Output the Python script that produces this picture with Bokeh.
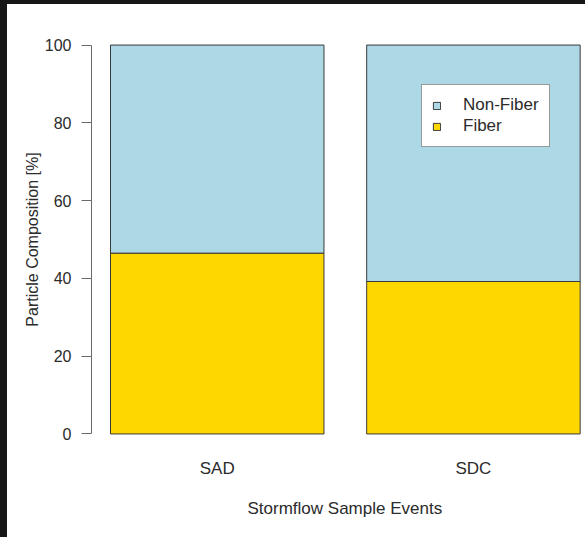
import numpy as np
from bokeh.plotting import figure
from bokeh.models import ColumnDataSource, Range1d, FixedTicker, Legend, LegendItem, Title
from bokeh.layouts import column
from bokeh.embed import file_html
from bokeh.resources import INLINE

# ---- data ----
events = ["SAD", "SDC"]
fiber = [46.5, 39.2]
non_fiber = [round(100 - f, 1) for f in fiber]
y_ticks = [0, 20, 40, 60, 80, 100]
series_labels = ["Fiber", "Non-Fiber"]
series_colors = ["#FFD700", "#ADD8E6"]
x_title = "Stormflow Sample Events"
y_title = "Particle Composition [%]"

bar_width = 1.0
bar_space = 0.2
x_pos = [bar_space + i * (bar_width + bar_space) + bar_width / 2 for i in range(len(events))]

src = ColumnDataSource(dict(x=x_pos, fiber=fiber, non_fiber=non_fiber, event=events))

FONT = "Liberation Sans"
TXT = "#2b2b2b"
AX = "#6a6a6a"

p = figure(width=578, height=533,
           x_range=Range1d(0.111, 2.425), y_range=Range1d(-4, 104),
           output_backend="svg", toolbar_location=None,
           min_border_left=84, min_border_right=0,
           min_border_top=25, min_border_bottom=88)
p.outline_line_color = None
p.xgrid.visible = False
p.ygrid.visible = False
p.background_fill_color = "white"
p.border_fill_color = "white"

rs = p.vbar_stack(["fiber", "non_fiber"], x="x", width=bar_width, source=src,
                  fill_color=series_colors, line_color="#3a3a3a", line_width=1)

# x axis
xa = p.xaxis[0]
xa.ticker = FixedTicker(ticks=x_pos)
xa.major_label_overrides = {x: e for x, e in zip(x_pos, events)}
xa.axis_line_color = None
xa.major_tick_line_color = None
xa.minor_tick_line_color = None
xa.major_tick_out = 0
xa.major_tick_in = 0
xa.major_label_standoff = 9
xa.major_label_text_font = FONT
xa.major_label_text_font_size = "17px"
xa.major_label_text_color = TXT

# x title (centred on R's wider plot region, which is cropped on the right)
p.add_layout(Title(text=x_title, align="left", offset=156, vertical_align="top",
                   standoff=36, text_font=FONT, text_font_size="17px",
                   text_font_style="normal", text_color=TXT), "below")

# y axis
ya = p.yaxis[0]
ya.ticker = FixedTicker(ticks=y_ticks)
ya.bounds = (0, 100)
ya.axis_line_color = AX
ya.major_tick_line_color = AX
ya.minor_tick_line_color = None
ya.major_tick_out = 10
ya.major_tick_in = 0
ya.major_label_standoff = 10
ya.major_label_text_font = FONT
ya.major_label_text_font_size = "16px"
ya.major_label_text_color = TXT
ya.axis_label = y_title
ya.axis_label_standoff = 1
ya.axis_label_text_font = FONT
ya.axis_label_text_font_size = "16px"
ya.axis_label_text_font_style = "normal"
ya.axis_label_text_color = TXT

legend = Legend(items=[LegendItem(label=series_labels[1], renderers=[rs[1]]),
                       LegendItem(label=series_labels[0], renderers=[rs[0]])],
                location=(330, 302), padding=10, spacing=1,
                label_height=20, glyph_height=9, glyph_width=9, label_standoff=22,
                label_text_font=FONT, label_text_font_size="17px", label_text_color=TXT,
                border_line_color="#333333", border_line_width=1,
                background_fill_color="white", background_fill_alpha=1.0,
                margin=0)
p.add_layout(legend)

inner = column(p, width=578, height=533, margin=(4, 0, 0, 7),
               styles={"background-color": "white"})
layout = column(inner, width=585, height=537, styles={"background-color": "#161616"})

open("out.html", "w").write(file_html(layout, INLINE))
